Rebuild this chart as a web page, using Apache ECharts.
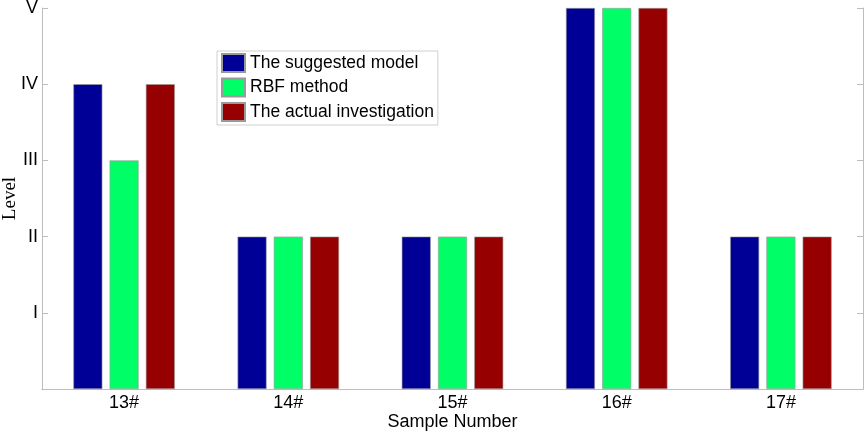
<!DOCTYPE html>
<html><head><meta charset="utf-8">
<script src="https://cdn.jsdelivr.net/npm/echarts@6/dist/echarts.min.js"></script>
<style>html,body{margin:0;padding:0;background:#fff}#c{width:865px;height:431px}</style>
</head><body><div id="c"></div>
<script>
const categories = ['13#','14#','15#','16#','17#'];
const suggested = [4,2,2,5,2];
const rbf = [3,2,2,5,2];
const actual = [4,2,2,5,2];
const levelLabels = ['', 'I','II','III','IV','V'];

const chart = echarts.init(document.getElementById('c'));
const axisCol = '#bdbdbd';
const font = 'Liberation Sans, Arial, sans-serif';
function ser(name, data, color){
  return {name, type:'bar', data, barWidth:29, barGap:'25%',
    itemStyle:{color, borderColor:'#9a9a9a', borderWidth:0.6}};
}
chart.setOption({
  animation:false,
  grid:{left:42,right:2,top:8,bottom:42,containLabel:false,outerBoundsMode:'none'},
  legend:{
    orient:'vertical', left:217, top:51, itemWidth:23, itemHeight:18, itemGap:4.5,
    backgroundColor:'#fff', borderColor:'#cfcfcf', borderWidth:1, padding:[2,4,3,4],
    textStyle:{fontFamily:font,fontSize:17.5,color:'#000'},
    icon:'rect'
  },
  xAxis:[{
    type:'category', data:categories, position:'bottom',
    axisLine:{lineStyle:{color:axisCol}}, axisTick:{show:false},
    axisLabel:{color:'#000',fontFamily:font,fontSize:18,margin:5,hideOverlap:false},
    name:'Sample Number', nameLocation:'middle', nameGap:24, nameMoveOverlap:false,
    nameTextStyle:{color:'#000',fontFamily:font,fontSize:18}
  },{
    type:'category', data:categories, position:'top',
    axisLine:{lineStyle:{color:axisCol}},
    axisTick:{inside:true,length:6,alignWithLabel:true,lineStyle:{color:axisCol}},
    axisLabel:{show:false}
  }],
  yAxis:[{
    type:'value', min:0, max:5, interval:1, position:'left',
    splitLine:{show:false},
    axisLine:{show:true,lineStyle:{color:axisCol}},
    axisTick:{show:true,inside:true,length:6,lineStyle:{color:axisCol}},
    axisLabel:{color:'#000',fontFamily:font,fontSize:18,margin:4,formatter:v=>levelLabels[v]||''},
    name:'Level', nameLocation:'middle', nameGap:22, nameMoveOverlap:false,
    nameTextStyle:{color:'#000',fontFamily:'Liberation Serif, Times New Roman, serif',fontSize:19}
  },{
    type:'value', min:0, max:5, interval:1, position:'right',
    splitLine:{show:false},
    axisLine:{show:true,lineStyle:{color:axisCol}},
    axisTick:{show:true,inside:true,length:6,lineStyle:{color:axisCol}},
    axisLabel:{show:false}
  }],
  series:[
    ser('The suggested model', suggested, '#000096'),
    ser('RBF method', rbf, '#00FF66'),
    ser('The actual investigation', actual, '#960000')
  ]
});
</script></body></html>
